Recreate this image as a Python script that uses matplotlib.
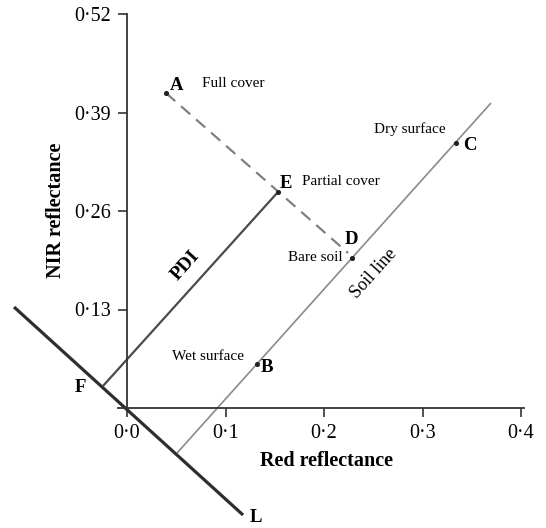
import numpy as np
import matplotlib
matplotlib.use("Agg")
import matplotlib.pyplot as plt
from matplotlib.ticker import FuncFormatter

plt.rcParams['font.family'] = ['Liberation Serif', 'DejaVu Serif']

# points of the PDI diagram (red, nir reflectance)
point_names = ['A', 'B', 'C', 'D', 'E', 'F']
point_red = [0.0396, 0.1320, 0.3340, 0.2284, 0.1533, -0.0244]
point_nir = [0.4157, 0.0581, 0.3497, 0.1980, 0.2851, 0.0290]

# lines
soil_red = [0.0508, 0.3695]
soil_nir = [-0.0594, 0.4025]
l_red = [-0.1147, 0.1178]
l_nir = [0.1333, -0.1412]
dash_red = [0.0396, 0.2244]
dash_nir = [0.4157, 0.2046]

x_ticks = [0.0, 0.1, 0.2, 0.3, 0.4]
y_ticks = [0.13, 0.26, 0.39, 0.52]

# pixel -> data helpers (axes fills the figure)
W, H = 546, 528
X0, Y0 = 127, 408
SX, SY = 985.0, 394 / 0.52


def px(x, y):
    return (x - X0) / SX, (Y0 - y) / SY


fig = plt.figure(figsize=(5.46, 5.28), dpi=100)
ax = fig.add_axes([0, 0, 1, 1])
ax.set_xlim(px(0, 0)[0], px(W, 0)[0])
ax.set_ylim(px(0, H)[1], px(0, 0)[1])

# spines through origin
for s in ['top', 'right']:
    ax.spines[s].set_visible(False)
ax.spines['left'].set_position(('data', 0))
ax.spines['bottom'].set_position(('data', 0))
ax.spines['left'].set_bounds(0, 0.52)
ax.spines['bottom'].set_bounds(px(118, 0)[0], px(524, 0)[0])
for s in ['left', 'bottom']:
    ax.spines[s].set_color('#333333')
    ax.spines[s].set_linewidth(1.3)

ax.set_xticks(x_ticks)
ax.set_yticks(y_ticks)
ax.xaxis.set_major_formatter(FuncFormatter(lambda v, p: f'{v:.1f}'.replace('.', '\u00b7')))
ax.yaxis.set_major_formatter(FuncFormatter(lambda v, p: f'{v:.2f}'.replace('.', '\u00b7')))
ax.tick_params(direction='out', length=6.5, width=1.2, color='#333333',
               labelsize=14.5, pad=5)

# soil line, L line, PDI line, dashed A-D
ax.plot(soil_red, soil_nir, color='#8a8a8a', lw=1.2, solid_capstyle='butt')
ax.plot(l_red, l_nir, color='#2e2e2e', lw=2.3, solid_capstyle='butt')
ax.plot([point_red[5], point_red[4]], [point_nir[5], point_nir[4]],
        color='#4a4a4a', lw=1.6, solid_capstyle='butt')
ax.plot(dash_red, dash_nir, color='#808080', lw=1.6, dashes=(5.5, 3.5))

ax.scatter(point_red[:5], point_nir[:5], s=7, color='#222222', zorder=5)

bold = dict(fontsize=13.5, fontweight='bold', ha='center', va='center')
norm = dict(fontsize=11, ha='left', va='center')
ax.text(*px(177, 86), 'A', **bold)
ax.text(*px(202, 84), 'Full cover', **norm)
ax.text(*px(286, 184), 'E', **bold)
ax.text(*px(302, 182), 'Partial cover', **norm)
ax.text(*px(351, 240), 'D', **bold)
ax.text(*px(343, 258), 'Bare soil', fontsize=11, ha='right', va='center')
ax.text(*px(410, 129), 'Dry surface', fontsize=11, ha='center', va='center')
ax.text(*px(470, 145), 'C', **bold)
ax.text(*px(208, 357), 'Wet surface', fontsize=11, ha='center', va='center')
ax.text(*px(267, 368), 'B', **bold)
ax.text(*px(80, 387), 'F', **bold)
ax.text(*px(256, 518), 'L', **bold)

ang = np.degrees(np.arctan2(350, 314))
ax.text(*px(185, 266), 'PDI', fontsize=14, fontweight='bold', rotation=ang,
        ha='center', va='center', rotation_mode='anchor')
ax.text(*px(374, 274), 'Soil line', fontsize=13, rotation=ang,
        ha='center', va='center', rotation_mode='anchor')

ax.text(*px(327, 461), 'Red reflectance', fontsize=14.5, fontweight='bold',
        ha='center', va='center')
ax.text(*px(56, 210), 'NIR reflectance', fontsize=14.5, fontweight='bold',
        rotation=90, ha='center', va='center')

fig.savefig('out.png', dpi=100)
